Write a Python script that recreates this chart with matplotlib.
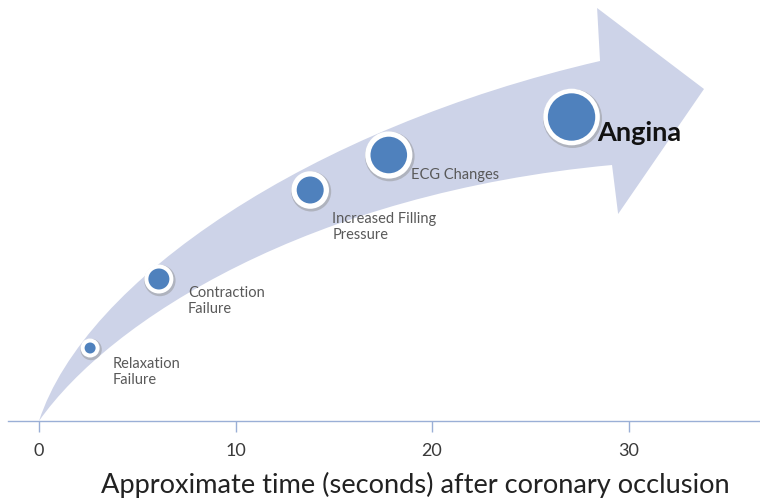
import matplotlib
matplotlib.use("Agg")
import matplotlib.pyplot as plt
from matplotlib.path import Path
from matplotlib.patches import PathPatch
from matplotlib import transforms

# --- data -------------------------------------------------------------
events = ["Relaxation\nFailure", "Contraction\nFailure",
          "Increased Filling\nPressure", "ECG Changes", "Angina"]
onset_seconds = [2.6, 6.1, 13.8, 17.8, 27.1]      # time after occlusion
severity_level = [73, 142, 231, 266, 304]          # height along the cascade
time_ticks = [0, 10, 20, 30]
time_tick_labels = ["0", "10", "20", "30"]

# --- styling ----------------------------------------------------------
FONT = ["Lato", "DejaVu Sans"]
plt.rcParams["font.family"] = FONT
ARROW_COLOR = "#CDD3E8"
AXIS_COLOR = "#9AAFD6"
DOT_COLOR = "#4F81BD"
outer_radius_px = [9.5, 14.5, 18.8, 23.6, 28.3]
inner_radius_px = [5.5, 10.5, 13.5, 18.3, 23.7]
label_offset_px = [(23, -24), (29, -22), (22, -37), (22, -20), (26, -16)]

fig = plt.figure(figsize=(7.6, 5.04), dpi=100)
ax = fig.add_axes([8 / 760, 83 / 504, 752 / 760, 421 / 504])
ax.set_xlim(-1.578, 36.69)
ax.set_ylim(0, 421)

# --- curved arrow (shaft edges as cubic Beziers, straight head) -------
verts = [
    (0.0, 0.0),                       # tail tip
    (2.34, 141), (13.79, 293), (28.55, 360),   # upper edge
    (28.40, 413),                     # upper barb
    (33.84, 332),                     # head tip
    (29.47, 207),                     # lower barb
    (29.16, 256),                     # lower edge start
    (13.79, 228), (3.61, 101), (0.0, 0.0),     # lower edge back to tail
    (0.0, 0.0),
]
codes = [Path.MOVETO,
         Path.CURVE4, Path.CURVE4, Path.CURVE4,
         Path.LINETO, Path.LINETO, Path.LINETO, Path.LINETO,
         Path.CURVE4, Path.CURVE4, Path.CURVE4,
         Path.CLOSEPOLY]
ax.add_patch(PathPatch(Path(verts, codes), facecolor=ARROW_COLOR,
                       edgecolor="none", zorder=1))

# --- event markers ----------------------------------------------------
def area(r_px):
    return (2 * r_px * 72 / fig.dpi) ** 2

shadow_tr = transforms.offset_copy(ax.transData, fig=fig, x=1.0, y=-1.5,
                                   units="dots")
ax.scatter(onset_seconds, severity_level,
           s=[area(r + 1.2) for r in outer_radius_px],
           color="#8c8c8c", alpha=0.45, linewidths=0, zorder=2,
           transform=shadow_tr)
ax.scatter(onset_seconds, severity_level,
           s=[area(r) for r in outer_radius_px],
           color="white", linewidths=0, zorder=3)
ax.scatter(onset_seconds, severity_level,
           s=[area(r) for r in inner_radius_px],
           color=DOT_COLOR, linewidths=0, zorder=4)

for i, (name, t, lvl) in enumerate(zip(events, onset_seconds, severity_level)):
    dx, dy = label_offset_px[i]
    last = i == len(events) - 1
    ax.annotate(name, (t, lvl), xytext=(dx, dy), textcoords="offset pixels",
                ha="left", va="center", linespacing=1.15,
                fontsize=19.5 if last else 10.5,
                fontweight="bold" if last else "normal",
                color="#111111" if last else "#595959", zorder=5)

# --- time axis --------------------------------------------------------
for side in ("left", "right", "top"):
    ax.spines[side].set_visible(False)
ax.spines["bottom"].set_color(AXIS_COLOR)
ax.spines["bottom"].set_linewidth(1.0)
ax.set_yticks([])
ax.set_xticks(time_ticks)
ax.set_xticklabels(time_tick_labels)
ax.tick_params(axis="x", direction="out", length=8, width=1.0,
               color=AXIS_COLOR, labelsize=13, labelcolor="#3a3a3a", pad=8)
ax.set_xlabel("Approximate time (seconds) after coronary occlusion",
              fontsize=19.6, color="#222222")
ax.xaxis.set_label_coords(0.541, -0.152)
ax.xaxis.label.set_va("center")

fig.savefig("out.png", dpi=100)
